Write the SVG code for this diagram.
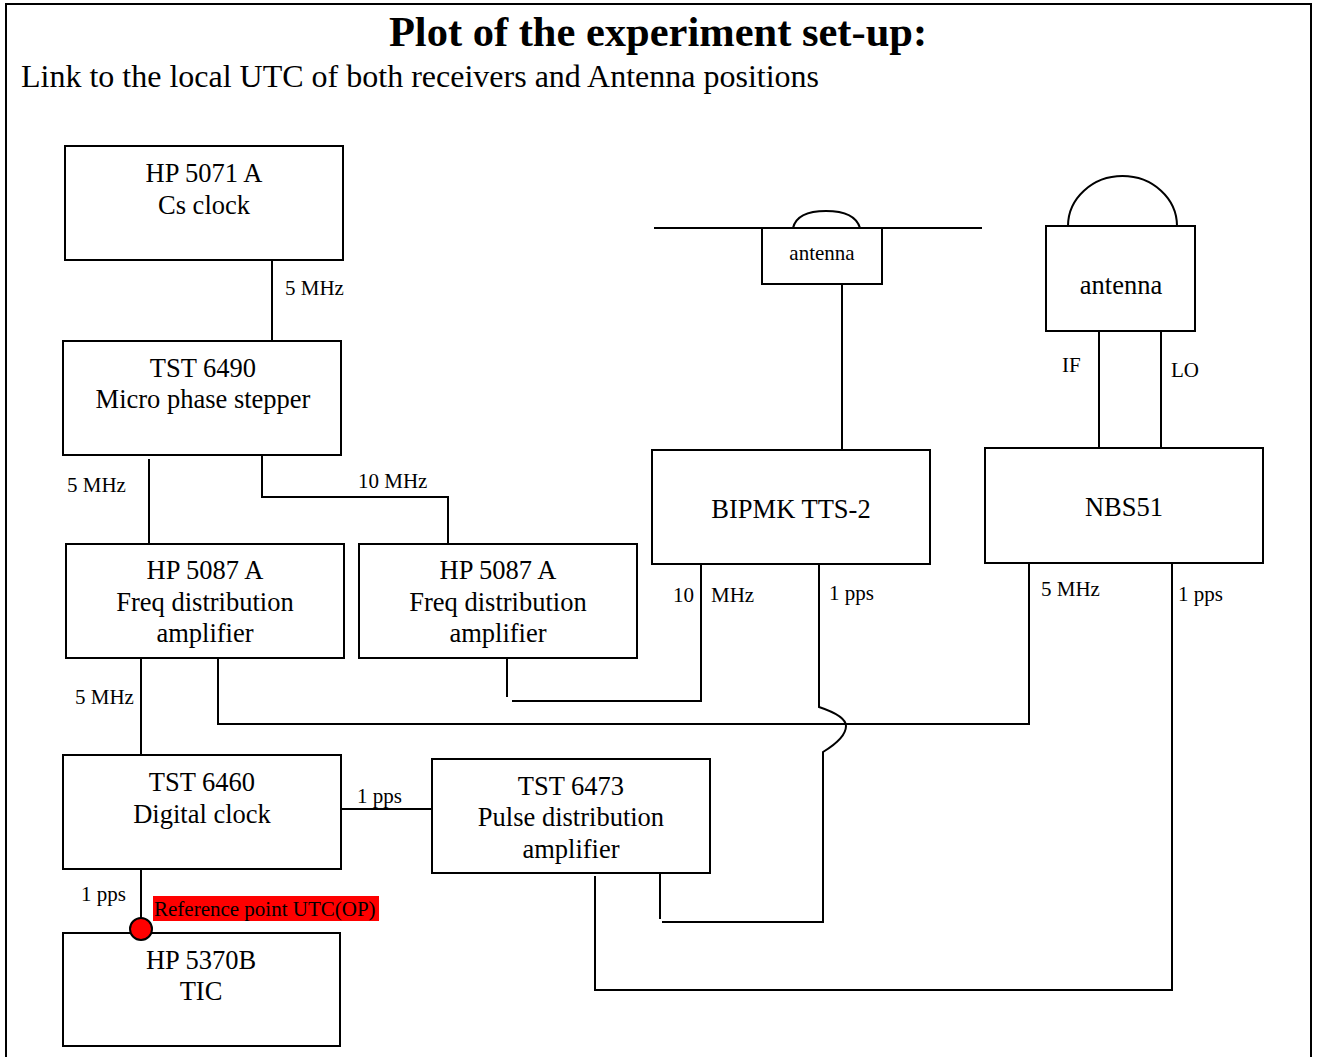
<svg xmlns="http://www.w3.org/2000/svg" width="1317" height="1057" viewBox="0 0 1317 1057">
<style>
.box{fill:#fff;stroke:#000;stroke-width:2}
.ln{fill:none;stroke:#000;stroke-width:2}
.t{font-family:"Liberation Serif","Times New Roman",serif;font-size:26.5px;fill:#000;text-anchor:middle}
.lb{font-family:"Liberation Serif","Times New Roman",serif;font-size:21px;fill:#000}
</style>
<rect x="0" y="0" width="1317" height="1057" fill="#fff"/>
<rect x="6" y="4" width="1305" height="1070" fill="none" stroke="#000" stroke-width="2"/>
<text x="658" y="46" font-family="Liberation Serif, Times New Roman, serif" font-size="42.5" font-weight="bold" text-anchor="middle">Plot of the experiment set-up:</text>
<text x="21" y="87" font-family="Liberation Serif, Times New Roman, serif" font-size="32">Link to the local UTC of both receivers and Antenna positions</text>

<g id="connectors">
<line class="ln" x1="272" y1="260" x2="272" y2="341"/>
<line class="ln" x1="149" y1="459" x2="149" y2="544"/>
<polyline class="ln" points="262,455 262,497 448,497 448,544"/>
<line class="ln" x1="141" y1="658" x2="141" y2="755"/>
<polyline class="ln" points="218,658 218,724 1029,724 1029,563"/>
<line class="ln" x1="507" y1="658" x2="507" y2="697"/>
<polyline class="ln" points="512,701 701,701 701,564"/>
<path class="ln" d="M819,564 L819,707 Q846,716 846,726 Q846,738 823,752 L823,922 L662,922"/>
<line class="ln" x1="660" y1="873" x2="660" y2="919"/>
<polyline class="ln" points="1172,560 1172,990 595,990 595,876"/>
<line class="ln" x1="1099" y1="331" x2="1099" y2="450"/>
<line class="ln" x1="1161" y1="327" x2="1161" y2="448"/>
<line class="ln" x1="842" y1="284" x2="842" y2="450"/>
<line class="ln" x1="341" y1="809" x2="434" y2="809"/>
<line class="ln" x1="141" y1="869" x2="141" y2="929"/>
<text class="lb" x="285" y="295">5 MHz</text>
<text class="lb" x="67" y="492">5 MHz</text>
<text class="lb" x="358" y="488">10 MHz</text>
<text class="lb" x="75" y="704">5 MHz</text>
<text class="lb" x="673" y="602">10</text>
<text class="lb" x="711" y="602">MHz</text>
<text class="lb" x="829" y="600">1 pps</text>
<text class="lb" x="1041" y="596">5 MHz</text>
<text class="lb" x="1178" y="601">1 pps</text>
<text class="lb" x="1062" y="372">IF</text>
<text class="lb" x="1171" y="377">LO</text>
<text class="lb" x="357" y="803">1 pps</text>
<text class="lb" x="81" y="901">1 pps</text>
</g>

<g id="cs-clock">
<rect class="box" x="65" y="146" width="278" height="114"/>
<text class="t" x="204" y="182">HP 5071 A</text>
<text class="t" x="204" y="214">Cs clock</text>
</g>
<g id="phase-stepper">
<rect class="box" x="63" y="341" width="278" height="114"/>
<text class="t" x="203" y="377">TST 6490</text>
<text class="t" x="203" y="408">Micro phase stepper</text>
</g>
<g id="fda-left">
<rect class="box" x="66" y="544" width="278" height="114"/>
<text class="t" x="205" y="579">HP 5087 A</text>
<text class="t" x="205" y="611">Freq distribution</text>
<text class="t" x="205" y="642">amplifier</text>
</g>
<g id="fda-right">
<rect class="box" x="359" y="544" width="278" height="114"/>
<text class="t" x="498" y="579">HP 5087 A</text>
<text class="t" x="498" y="611">Freq distribution</text>
<text class="t" x="498" y="642">amplifier</text>
</g>
<g id="digital-clock">
<rect class="box" x="63" y="755" width="278" height="114"/>
<text class="t" x="202" y="791">TST 6460</text>
<text class="t" x="202" y="823">Digital clock</text>
</g>
<g id="pulse-amp">
<rect class="box" x="432" y="759" width="278" height="114"/>
<text class="t" x="571" y="795">TST 6473</text>
<text class="t" x="571" y="826">Pulse distribution</text>
<text class="t" x="571" y="858">amplifier</text>
</g>
<g id="tic">
<rect class="box" x="63" y="933" width="277" height="113"/>
<text class="t" x="201" y="969">HP 5370B</text>
<text class="t" x="201" y="1000">TIC</text>
</g>
<g id="ref-point">
<rect x="153" y="896" width="226" height="25" fill="#f00"/>
<text class="lb" x="154" y="916">Reference point UTC(OP)</text>
<circle cx="141" cy="929" r="11" fill="#f00" stroke="#000" stroke-width="2"/>
</g>
<g id="antenna-small">
<line class="ln" x1="654" y1="228" x2="982" y2="228"/>
<path class="ln" d="M793,228 Q797,211 826,211 Q855,211 860,228"/>
<rect class="box" x="762" y="228" width="120" height="56"/>
<text class="lb" x="822" y="260" text-anchor="middle">antenna</text>
</g>
<g id="bipmk">
<rect class="box" x="652" y="450" width="278" height="114"/>
<text class="t" x="791" y="518">BIPMK TTS-2</text>
</g>
<g id="antenna-large">
<path class="ln" d="M1068,226 A54.5,50 0 0 1 1177,226"/>
<rect class="box" x="1046" y="226" width="149" height="105"/>
<text class="t" x="1121" y="294">antenna</text>
</g>
<g id="nbs51">
<rect class="box" x="985" y="448" width="278" height="115"/>
<text class="t" x="1124" y="516">NBS51</text>
</g>
</svg>
